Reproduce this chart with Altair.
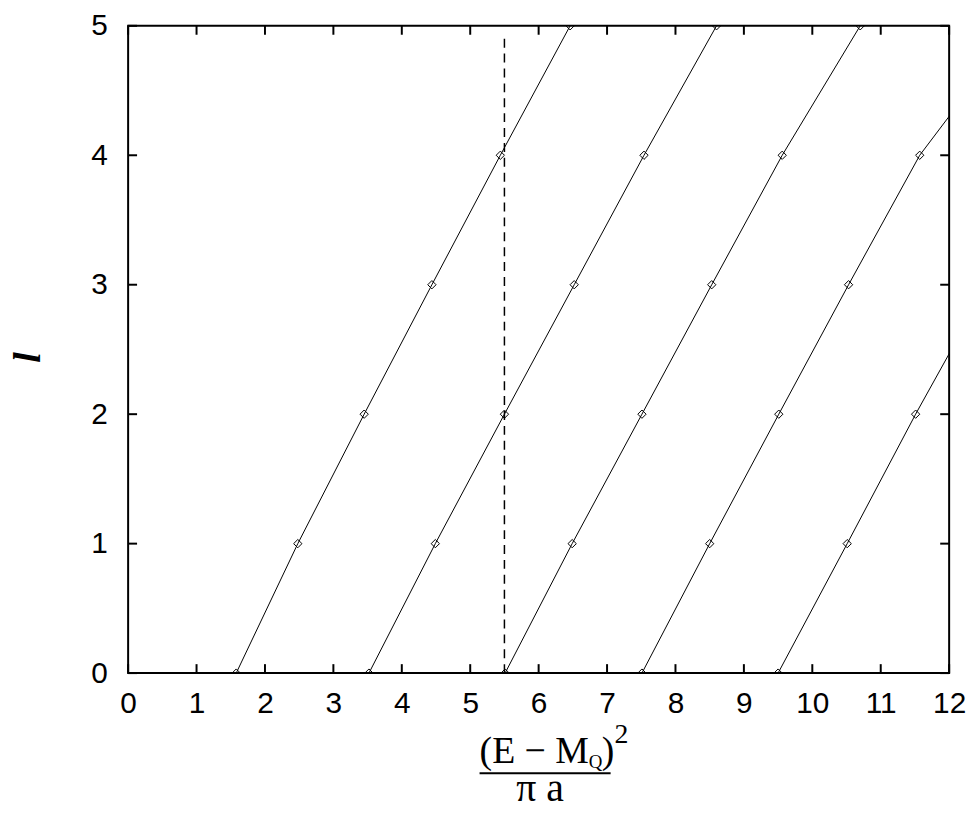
import altair as alt
import pandas as pd

# ---- data ----
levels = [0, 1, 2, 3, 4, 5]
series_1 = [1.58, 2.48, 3.45, 4.44, 5.44, 6.46]
series_2 = [3.52, 4.49, 5.50, 6.52, 7.54, 8.60]
series_3 = [5.51, 6.49, 7.51, 8.53, 9.56, 10.70]
series_4 = [7.51, 8.50, 9.51, 10.53, 11.57, 13.00]
series_5 = [9.50, 10.51, 11.51, 12.56]
dashed_x = [5.5]
dashed_y0 = [0.0]
dashed_y1 = [4.93]
x_ticks = list(range(0, 13))
y_ticks = list(range(0, 6))

num_main = "(E − M"
num_sub = "Q"
num_close = ")"
num_sup = "2"
denominator = "π a"
y_title = "l"

rows = []
for name, xs_ in [("n1", series_1), ("n2", series_2), ("n3", series_3),
                  ("n4", series_4), ("n5", series_5)]:
    for l, x in zip(levels, xs_):
        rows.append({"series": name, "x": x, "l": l})
df = pd.DataFrame(rows)
dash_df = pd.DataFrame({"x": dashed_x, "y0": dashed_y0, "y1": dashed_y1})
xt_df = pd.DataFrame({"x": x_ticks})
yt_df = pd.DataFrame({"l": y_ticks})
one = pd.DataFrame({"k": [0]})

W, H = 827, 652
xs = alt.Scale(domain=[0, 12], nice=False, zero=False)
ys = alt.Scale(domain=[0, 5], nice=False, zero=False)

x_axis = alt.Axis(values=x_ticks, ticks=False, tickSize=0, domain=False, grid=False,
                  labelFontSize=30, labelFont="Liberation Sans", labelColor="black",
                  labelPadding=16, labelFlush=False, labelOverlap=False, title=None)
y_axis = alt.Axis(values=y_ticks, ticks=False, tickSize=0, domain=False, grid=False,
                  labelFontSize=30, labelFont="Liberation Sans", labelColor="black",
                  labelPadding=21, labelFlush=False, labelOverlap=False, title=None)

X = alt.X("x:Q", scale=xs, axis=x_axis)
Y = alt.Y("l:Q", scale=ys, axis=y_axis)

lines = alt.Chart(df).mark_line(color="black", strokeWidth=1, clip=True).encode(
    x=X, y=Y, detail="series:N", order="l:Q",
)
points = alt.Chart(df).mark_point(shape="diamond", size=70, filled=False, color="black",
                                  strokeWidth=1, clip=True, opacity=1).encode(x=X, y=Y)
dashed = alt.Chart(dash_df).mark_rule(color="black", strokeWidth=1.5, strokeDash=[9, 6]).encode(
    x=X,
    y=alt.Y("y0:Q", scale=ys, axis=y_axis),
    y2="y1:Q",
)

TL = 9
tick_style = dict(color="black", strokeWidth=2)
xb = alt.Chart(xt_df).mark_rule(**tick_style).encode(
    x=X, y=alt.value(H), y2=alt.value(H - TL))
xtop = alt.Chart(xt_df).mark_rule(**tick_style).encode(
    x=X, y=alt.value(0), y2=alt.value(TL))
yl = alt.Chart(yt_df).mark_rule(**tick_style).encode(
    y=Y, x=alt.value(0), x2=alt.value(TL))
yr = alt.Chart(yt_df).mark_rule(**tick_style).encode(
    y=Y, x=alt.value(W), x2=alt.value(W - TL))

serif = "Liberation Serif"
t_main = alt.Chart(one).mark_text(font=serif, fontSize=38, align="left", baseline="alphabetic",
                                  color="black").encode(
    x=alt.value(354), y=alt.value(743), text=alt.value(num_main))
t_sub = alt.Chart(one).mark_text(font=serif, fontSize=19, align="left", baseline="alphabetic",
                                 color="black").encode(
    x=alt.value(464), y=alt.value(748), text=alt.value(num_sub))
t_close = alt.Chart(one).mark_text(font=serif, fontSize=38, align="left", baseline="alphabetic",
                                   color="black").encode(
    x=alt.value(477), y=alt.value(743), text=alt.value(num_close))
t_sup = alt.Chart(one).mark_text(font=serif, fontSize=28, align="left", baseline="alphabetic",
                                 color="black").encode(
    x=alt.value(490), y=alt.value(722), text=alt.value(num_sup))
frac = alt.Chart(one).mark_rule(color="black", strokeWidth=2).encode(
    x=alt.value(354), x2=alt.value(486), y=alt.value(753))
t_den = alt.Chart(one).mark_text(font=serif, fontSize=40, align="center", baseline="alphabetic",
                                 color="black").encode(
    x=alt.value(415), y=alt.value(781), text=alt.value(denominator))
t_y = alt.Chart(one).mark_text(font=serif, fontSize=38, fontStyle="italic", fontWeight="bold",
                               align="center", baseline="middle", angle=270,
                               color="black").encode(
    x=alt.value(-100), y=alt.value(334), text=alt.value(y_title))

chart = alt.layer(
    lines, points, dashed, xb, xtop, yl, yr,
    t_main, t_sub, t_close, t_sup, frac, t_den, t_y,
).properties(
    width=W, height=H,
    padding={"left": 121, "top": 15, "right": 20, "bottom": 140},
    autosize=alt.AutoSizeParams(type="none"),
    background="white",
).configure_view(stroke="black", strokeWidth=2)

chart.save("out.html", embed_options={"renderer": "svg", "actions": False})
